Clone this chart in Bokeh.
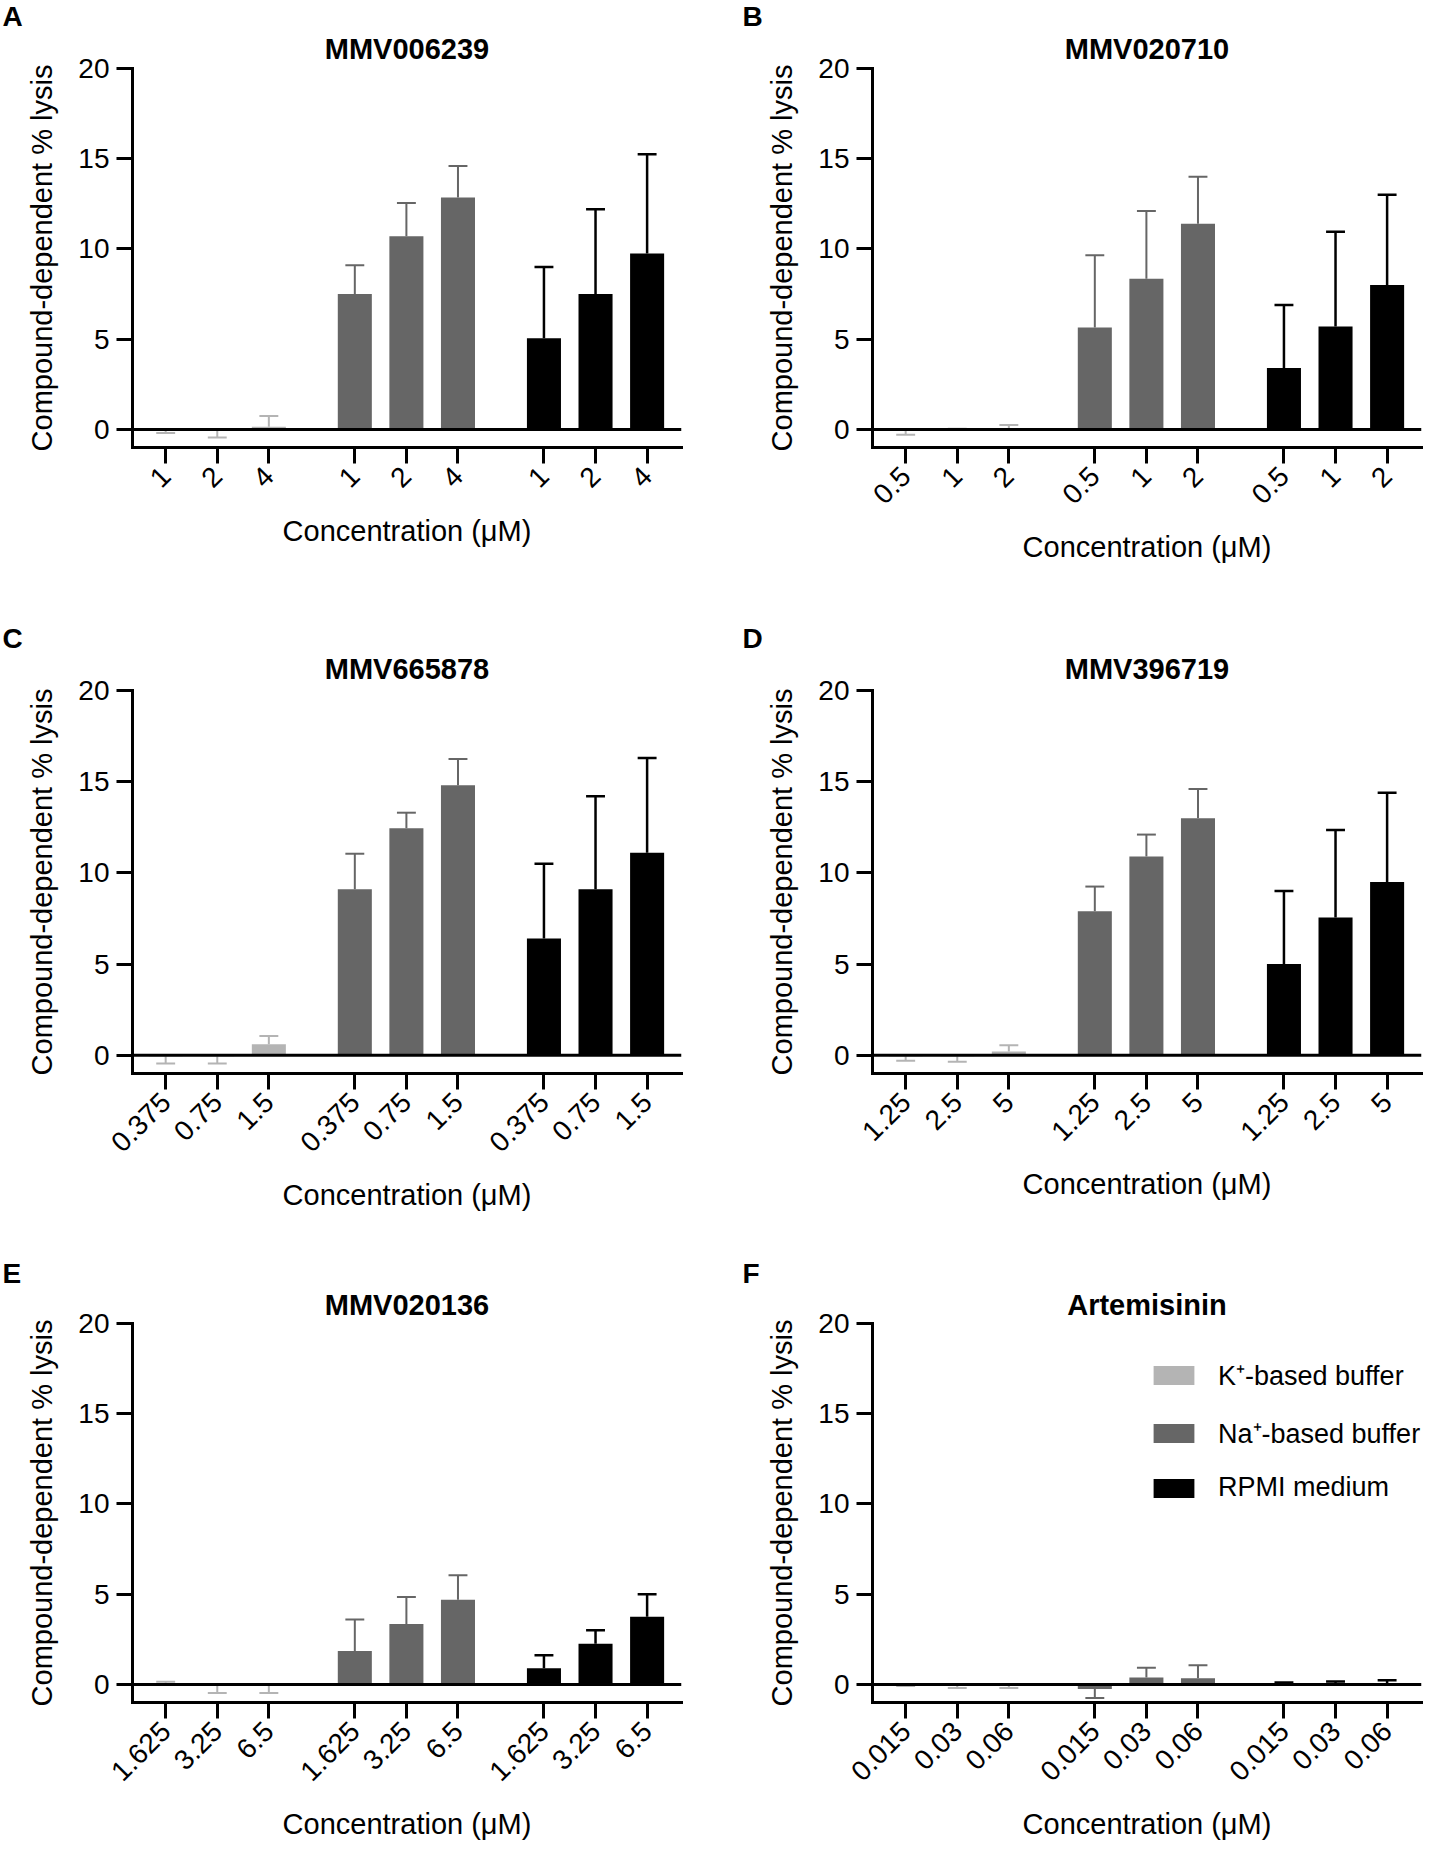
from bokeh.plotting import figure
from bokeh.models import FixedTicker, Span, Legend, LegendItem, Range1d, ColumnDataSource, Title
from bokeh.layouts import gridplot
from bokeh.embed import file_html
from bokeh.resources import INLINE
import math

FONT = "Liberation Sans"

SERIES = ["K\u207a-based buffer", "Na\u207a-based buffer", "RPMI medium"]
COLORS = ["#b4b4b4", "#666666", "#000000"]

letters = ["A", "B", "C", "D", "E", "F"]
titles = ["MMV006239", "MMV020710", "MMV665878", "MMV396719", "MMV020136", "Artemisinin"]

# concentration tick labels (uM), same three for each medium
conc_A = ["1", "2", "4"]
conc_B = ["0.5", "1", "2"]
conc_C = ["0.375", "0.75", "1.5"]
conc_D = ["1.25", "2.5", "5"]
conc_E = ["1.625", "3.25", "6.5"]
conc_F = ["0.015", "0.03", "0.06"]

# means: K+ (3), Na+ (3), RPMI (3)
mean_A = [-0.05, -0.02, 0.15, 7.5, 10.7, 12.85, 5.05, 7.5, 9.75]
sd_A = [0.15, 0.43, 0.6, 1.6, 1.85, 1.75, 3.95, 4.7, 5.5]
mean_B = [-0.05, 0.01, 0.05, 5.65, 8.35, 11.4, 3.4, 5.7, 8.0]
sd_B = [0.25, 0.03, 0.2, 4.0, 3.75, 2.6, 3.5, 5.25, 5.0]
mean_C = [-0.05, -0.05, 0.6, 9.1, 12.45, 14.8, 6.4, 9.1, 11.1]
sd_C = [0.4, 0.4, 0.45, 1.95, 0.85, 1.45, 4.1, 5.1, 5.2]
mean_D = [-0.05, -0.05, 0.2, 7.9, 10.9, 13.0, 5.0, 7.55, 9.5]
sd_D = [0.25, 0.3, 0.35, 1.35, 1.2, 1.6, 4.0, 4.8, 4.9]
mean_E = [0.03, -0.03, -0.03, 1.85, 3.35, 4.7, 0.9, 2.25, 3.75]
sd_E = [0.12, 0.45, 0.45, 1.75, 1.5, 1.35, 0.72, 0.75, 1.25]
mean_F = [-0.02, -0.05, -0.05, -0.25, 0.38, 0.34, 0.05, 0.05, 0.06]
sd_F = [0.06, 0.15, 0.15, 0.5, 0.55, 0.72, 0.06, 0.12, 0.17]

panels = [
    (conc_A, mean_A, sd_A), (conc_B, mean_B, sd_B),
    (conc_C, mean_C, sd_C), (conc_D, mean_D, sd_D),
    (conc_E, mean_E, sd_E), (conc_F, mean_F, sd_F),
]

COL_W = [742, 705]
COL_LEFT = [132, 130]
COL_RIGHT = [61, 26]
ROW_H = [622, 636, 593]
ROW_TOP = [68, 68, 65]
ROW_BOTTOM = [175, 185, 149]
TITLE_STANDOFF = [7, 12, 5]
LETTER_STANDOFF = [-9, -19, -9]

BAR_STEP = 3
GROUP_STEP = 11


def make_panel(idx):
    conc, means, sds = panels[idx]
    r, c = divmod(idx, 2)
    p = figure(width=COL_W[c], height=ROW_H[r], output_backend="svg", toolbar_location=None,
               title=None,
               x_range=Range1d(-1.93, 30.0), y_range=Range1d(-1, 20),
               min_border_left=COL_LEFT[c], min_border_right=COL_RIGHT[c],
               min_border_top=ROW_TOP[r], min_border_bottom=ROW_BOTTOM[r])
    p.outline_line_color = None
    p.xgrid.visible = False
    p.ygrid.visible = False
    p.background_fill_color = "white"

    p.add_layout(Title(text=titles[idx], align="center", text_font=FONT, text_font_size="29px",
                       text_font_style="bold", text_color="black", standoff=TITLE_STANDOFF[r]), "above")
    p.add_layout(Title(text=letters[idx], align="left", offset=-(COL_LEFT[c] - 2 + c * 2),
                       text_font=FONT, text_font_size="28px", text_font_style="bold",
                       text_color="black", standoff=LETTER_STANDOFF[r]), "above")

    xs_all = []
    labels = {}
    renderers = []
    for g in range(3):
        xs = [g * GROUP_STEP + i * BAR_STEP for i in range(3)]
        m = means[g * 3:(g + 1) * 3]
        s = sds[g * 3:(g + 1) * 3]
        ends = [mv + (sv if mv >= 0 else -sv) for mv, sv in zip(m, s)]
        cap = 0.55
        src = ColumnDataSource(dict(x=xs, top=m, end=ends,
                                    cx0=[x - cap for x in xs], cx1=[x + cap for x in xs]))
        lw = 2.5 if g == 2 else 2
        p.segment(x0="x", y0="top", x1="x", y1="end", source=src, line_color=COLORS[g], line_width=lw)
        p.segment(x0="cx0", y0="end", x1="cx1", y1="end", source=src, line_color=COLORS[g], line_width=lw)
        rb = p.vbar(x="x", top="top", bottom=0, width=1.98, source=src,
                    fill_color=COLORS[g], line_color=None)
        renderers.append(rb)
        for x, lab in zip(xs, conc):
            xs_all.append(x)
            labels[x] = lab

    p.add_layout(Span(location=0, dimension="width", line_color="black", line_width=3))

    # x axis
    xa = p.xaxis[0]
    xa.ticker = FixedTicker(ticks=xs_all)
    xa.major_label_overrides = labels
    xa.major_label_orientation = math.pi / 4
    xa.minor_tick_line_color = None
    xa.major_tick_in = 0
    xa.major_tick_out = 16
    xa.major_tick_line_width = 3
    xa.axis_line_width = 3
    xa.axis_line_cap = "square"
    xa.major_label_text_font = FONT
    xa.major_label_text_font_size = "28px"
    xa.major_label_text_color = "black"
    xa.major_label_standoff = 8
    xa.axis_label = "Concentration (\u03bcM)"
    xa.axis_label_text_font = FONT
    xa.axis_label_text_font_size = "29px"
    xa.axis_label_text_font_style = "normal"
    xa.axis_label_text_color = "black"
    xa.axis_label_standoff = 16

    # y axis
    ya = p.yaxis[0]
    ya.ticker = FixedTicker(ticks=[0, 5, 10, 15, 20])
    ya.minor_tick_line_color = None
    ya.major_tick_in = 0
    ya.major_tick_out = 16
    ya.major_tick_line_width = 3
    ya.axis_line_width = 3
    ya.axis_line_cap = "square"
    ya.major_label_text_font = FONT
    ya.major_label_text_font_size = "28px"
    ya.major_label_text_color = "black"
    ya.major_label_standoff = 7
    ya.axis_label = "Compound-dependent % lysis"
    ya.axis_label_text_font = FONT
    ya.axis_label_text_font_size = "29px"
    ya.axis_label_text_font_style = "normal"
    ya.axis_label_text_color = "black"
    ya.axis_label_standoff = 17

    if idx == 5:
        items = [LegendItem(label=SERIES[g], renderers=[renderers[g]]) for g in range(3)]
        leg = Legend(items=items, location=(276, 199), glyph_width=51, glyph_height=24,
                     label_text_font=FONT, label_text_font_size="27px", label_text_color="black",
                     label_standoff=19, spacing=21, padding=0, margin=0, border_line_color=None,
                     background_fill_alpha=0)
        p.add_layout(leg)
    return p


figs = [make_panel(i) for i in range(6)]
grid = gridplot([[figs[0], figs[1]], [figs[2], figs[3]], [figs[4], figs[5]]], toolbar_location=None)
open("out.html", "w").write(file_html(grid, INLINE))
